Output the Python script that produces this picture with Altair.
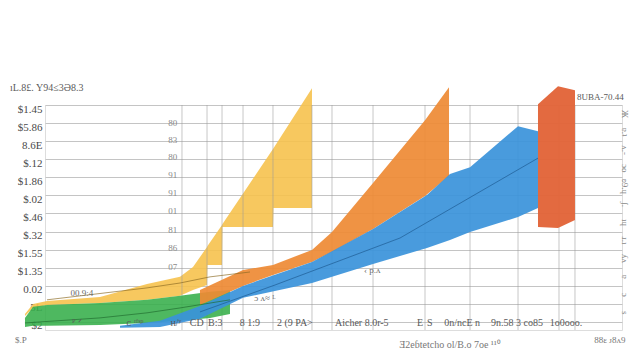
import json
import altair as alt
import pandas as pd

# ---- data (x: 0-100 units, y: value units) ----
green_x = [-3.47, -2.08, 0.35, 9.53, 17.68, 23.40, 28.60, 32.06]
green_top = [0.22, 0.83, 0.94, 1.05, 1.22, 1.44, 1.66, 1.77]
green_bottom = [-0.28, -0.22, -0.22, -0.17, -0.06, 0.06, 0.22, 0.44]

yellow_x = [-3.47, -2.08, 0.35, 9.53, 17.68, 23.40, 25.65, 28.08, 28.16, 30.68, 30.76, 39.51, 39.60, 46.27]
yellow_top = [0.44, 0.99, 1.16, 1.38, 2.10, 2.49, 3.04, 4.14, 4.20, 5.36, 5.41, 9.56, 9.61, 12.93]
yellow_bottom = [0.33, 0.77, 0.94, 1.05, 1.22, 1.44, 1.77, 2.04, 3.15, 3.15, 5.25, 5.25, 6.30, 6.30]

orange_x = [26.86, 34.32, 39.51, 46.27, 49.74, 56.85, 65.86, 70.02]
orange_top = [1.77, 2.87, 3.15, 3.98, 4.97, 7.68, 11.16, 12.98]
orange_bottom = [0.94, 1.99, 2.60, 3.31, 3.87, 5.14, 6.96, 8.07]

blue_x = [13.0, 19.93, 26.86, 34.32, 46.27, 56.85, 66.20, 70.19, 73.66, 81.98, 85.44]
blue_top = [-0.22, 0.06, 0.88, 1.99, 3.31, 5.14, 7.02, 8.18, 8.56, 10.83, 10.55]
blue_bottom = [-0.33, -0.28, 0.17, 1.33, 2.15, 3.20, 4.09, 4.53, 4.97, 5.80, 6.30]

red_x = [85.44, 88.91, 91.85]
red_top = [12.04, 13.04, 12.82]
red_bottom = [5.25, 5.19, 5.64]

green_line_x = [-3.47, 9.53, 17.68, 23.40, 32.06]
green_line_y = [-0.06, 0.22, 0.50, 0.77, 1.22]
yellow_line_x = [0.35, 17.68, 23.40, 28.60, 35.53]
yellow_line_y = [1.22, 1.88, 2.15, 2.49, 2.76]
blue_line_x = [26.86, 39.86, 61.53, 85.44]
blue_line_y = [0.55, 2.04, 4.64, 9.06]

grid_x = [23.74, 28.08, 30.68, 34.32, 39.51, 46.27, 49.74, 56.85, 65.86, 73.66, 81.98, 89.08, 91.85]

y_tick_values = list(range(13))
y_tick_labels = ["$2", "5L", "0.02", "$1.35", "$1.55", "$.32", "$.46",
                 "$.02", "$1.86", "$.12", "8.6E", "$5.86", "$1.45"]

inner_label_y = [10.99, 10.06, 9.12, 8.12, 7.13, 6.13, 5.08, 4.09, 3.04]
inner_label_text = ["80", "83", "80", "91", "91", "01", "81", "86", "07"]
inner_label_x = [22.9] * 9

x_label_pos = [5.55, 15.6, 22.7, 26.3, 29.5, 35.5, 43.3, 54.9, 65.0, 66.7, 72.3, 81.8, 90.3]
x_label_text = ["ᴾ ᐟ", "ᴄ ʳᶠˢᵖ", "ʜ/ʸ", "CD", "B:3", "8 1:9", "2 (9 PA>",
                "Aicher 8.0r-5", "E", "S", "0n/ncE n", "9n.58 3 co85", "1o0ooo."]
x_label_y = [-0.06] * 13

right_label_y = [11.5, 10.5, 9.5, 8.5, 7.5, 6.5, 5.5, 4.5, 3.5, 2.5, 1.5, 0.5]
right_label_text = ["Ж", "ɐ.ʇ", "ʌ.-", "ɔo", "ʚ9.ɥ", "ʃ.", "ıɥ", "ɹ.ı", "ʎʌ", "ɐ", "ɔ", "s"]
right_label_x = [100.5] * 12

note_x = [6.4, 56.7, 38.1]
note_y = [1.6, 2.87, 1.3]
note_text = ["00.9:4", "‹ p.ʌ", "ɔ ʌ≈ ᴸ"]

title_text = ["ıL.8£. Y94≤3Ә8.3"]
title_x = [-6.07]
title_y = [12.93]
top_right_text = ["8UBA-70.44"]
top_right_x = [92.2]
top_right_y = [12.43]
bottom_title_text = ["Ǝ2eɓtetcho ol/B.o 7oe ¹¹⁰"]
bottom_title_x = [70.2]
bottom_title_y = [-1.27]
bottom_right_text = ["88ɛ ᴊ8ᴧ9"]
bottom_right_x = [97.9]
bottom_right_y = [-0.99]
bottom_left_text = ["$.P"]
bottom_left_x = [-5.2]
bottom_left_y = [-0.99]

# ---- chart ----
X = alt.Scale(domain=[0, 100], nice=False, zero=False)
Y = alt.Scale(domain=[-0.45, 12], nice=False, zero=False)
FONT = "Liberation Serif"
GRAY = "#5a5a5a"

label_expr = json.dumps(y_tick_labels, ensure_ascii=False) + "[datum.value]"
y_axis = alt.Axis(values=y_tick_values, labelExpr=label_expr, grid=True,
                  gridColor="#c4c4c4", gridWidth=1, domain=False, ticks=False,
                  labelPadding=3, labelFont=FONT, labelFontSize=11,
                  labelColor="#4a4a4a", labelOffset=4, title=None)


def band(xs, tops, bots, color, opacity):
    df = pd.DataFrame({"x": xs, "top": tops, "bottom": bots})
    return alt.Chart(df).mark_area(color=color, opacity=opacity, clip=False,
                                   interpolate="linear").encode(
        x=alt.X("x:Q", scale=X, axis=None),
        y=alt.Y("top:Q", scale=Y, axis=y_axis, title=None),
        y2="bottom:Q")


def line(xs, ys, color):
    df = pd.DataFrame({"x": xs, "y": ys})
    return alt.Chart(df).mark_line(color=color, strokeWidth=0.9, opacity=0.75).encode(
        x=alt.X("x:Q", scale=X, axis=None),
        y=alt.Y("y:Q", scale=Y, axis=y_axis, title=None))


def texts(xs, ys, labels, size=10, color=GRAY, align="center", angle=0, font=FONT):
    df = pd.DataFrame({"x": xs, "y": ys, "t": labels})
    return alt.Chart(df).mark_text(fontSize=size, color=color, align=align,
                                   angle=angle, font=font, baseline="middle").encode(
        x=alt.X("x:Q", scale=X, axis=None),
        y=alt.Y("y:Q", scale=Y, axis=y_axis, title=None),
        text="t:N")


grid_rules = alt.Chart(pd.DataFrame({"x": grid_x})).mark_rule(
    color="#9a9a9a", strokeWidth=0.8, opacity=0.7).encode(
    x=alt.X("x:Q", scale=X, axis=None))

layers = [
    band(yellow_x, yellow_top, yellow_bottom, "#F6C24E", 0.9),
    grid_rules,
    band(green_x, green_top, green_bottom, "#35AE4A", 0.88),
    band(orange_x, orange_top, orange_bottom, "#EE8A34", 0.92),
    band(blue_x, blue_top, blue_bottom, "#3A93DA", 0.92),
    band(red_x, red_top, red_bottom, "#E2653A", 0.97),
    line(green_line_x, green_line_y, "#1f6b2e"),
    line(yellow_line_x, yellow_line_y, "#8a6a22"),
    line(blue_line_x, blue_line_y, "#1d5a90"),
    texts(inner_label_x, inner_label_y, inner_label_text, size=9, color="#8a8a8a", align="right"),
    texts(x_label_pos, x_label_y, x_label_text, size=10, color=GRAY),
    texts(right_label_x, right_label_y, right_label_text, size=9, color="#8a8a8a", angle=90),
    texts(note_x, note_y, note_text, size=9, color="#6a6a6a"),
    texts(title_x, title_y, title_text, size=10, color=GRAY, align="left"),
    texts(top_right_x, top_right_y, top_right_text, size=9, color=GRAY, align="left"),
    texts(bottom_title_x, bottom_title_y, bottom_title_text, size=10, color="#777777"),
    texts(bottom_right_x, bottom_right_y, bottom_right_text, size=9, color="#777777"),
    texts(bottom_left_x, bottom_left_y, bottom_left_text, size=9, color="#777777", align="left"),
]

chart = alt.layer(*layers).properties(
    width=577, height=225,
    autosize=alt.AutoSizeParams(type="none"),
    padding={"left": 37, "top": 97, "right": 10, "bottom": 22},
).configure_view(stroke="#9a9a9a", strokeWidth=1).configure(background="white")

chart.save("out.html", embed_options={"renderer": "svg", "actions": False})
